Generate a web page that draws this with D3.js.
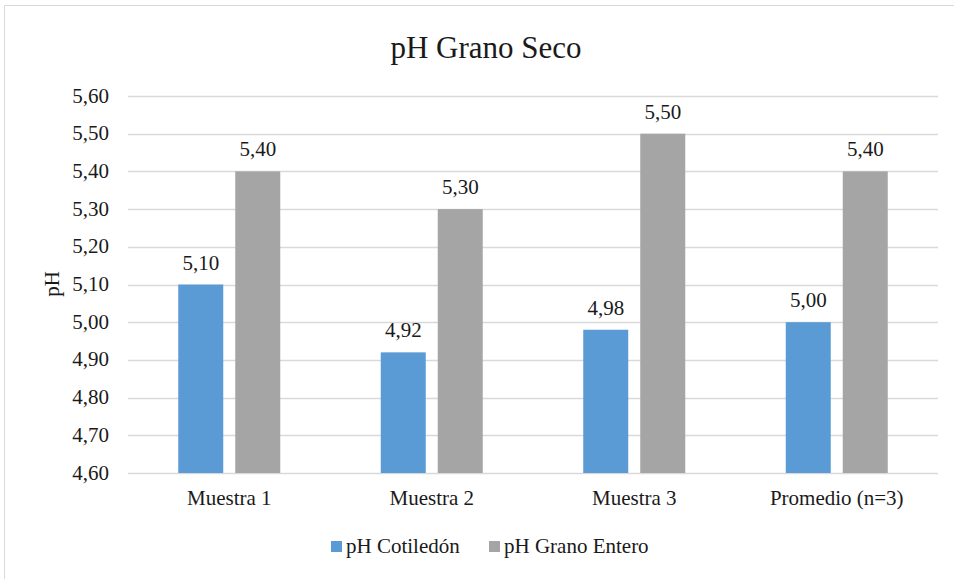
<!DOCTYPE html>
<html>
<head>
<meta charset="utf-8">
<script src="https://cdn.jsdelivr.net/npm/d3@7"></script>
<style>
  body { margin: 0; background: #fff; }
</style>
</head>
<body>
<script>
// Data
const categories = ["Muestra 1", "Muestra 2", "Muestra 3", "Promedio (n=3)"];
const seriesNames = ["pH Cotiledón", "pH Grano Entero"];
const cotiledon = [5.10, 4.92, 4.98, 5.00];
const granoEntero = [5.40, 5.30, 5.50, 5.40];
const yTicks = [4.6, 4.7, 4.8, 4.9, 5.0, 5.1, 5.2, 5.3, 5.4, 5.5, 5.6];
const colors = ["#5b9bd5", "#a5a5a5"];

const width = 954;
const height = 579;
const serif = "'Liberation Serif', 'Times New Roman', serif";

const margin = { top: 96, right: 16, bottom: 106, left: 128 };

const svg = d3.select("body")
  .append("svg")
  .attr("width", width)
  .attr("height", height);

// outer chart border (only top/left visible)
svg.append("rect")
  .attr("x", 4.5)
  .attr("y", 5.5)
  .attr("width", 1000)
  .attr("height", 1000)
  .attr("fill", "none")
  .attr("stroke", "#d9d9d9");

// helper for text
function label(g, x, y, txt, size, anchor, rot) {
  return g.append("text")
    .attr("transform", `translate(${x},${y})` + (rot ? ` rotate(${rot})` : ""))
    .attr("text-anchor", anchor || "middle")
    .attr("font-family", serif)
    .attr("font-size", size)
    .attr("fill", "#1a1a1a")
    .text(txt);
}

const x0 = d3.scaleBand()
  .domain(categories)
  .range([margin.left, width - margin.right]);

const y = d3.scaleLinear()
  .domain([4.6, 5.6])
  .range([height - margin.bottom, margin.top]);

const fmt = v => d3.format(".2f")(v).replace(".", ",");

// gridlines
svg.append("g")
  .selectAll("line")
  .data(yTicks)
  .join("line")
  .attr("x1", margin.left)
  .attr("x2", width - margin.right)
  .attr("y1", d => Math.round(y(d)) + 0.5)
  .attr("y2", d => Math.round(y(d)) + 0.5)
  .attr("stroke", "#d9d9d9")
  .attr("stroke-width", 1.5);

// y tick labels
const yLab = svg.append("g");
yTicks.forEach(t => label(yLab, 109, y(t) + 6.5, fmt(t), 21, "end"));

// bars
const barW = 45;
const gap = 12;
const series = [cotiledon, granoEntero];
const barX = (i, s) => x0(categories[i]) + x0.bandwidth() / 2 - (barW + gap / 2) + s * (barW + gap);

series.forEach((vals, s) => {
  svg.append("g")
    .selectAll("rect")
    .data(vals)
    .join("rect")
    .attr("x", (d, i) => barX(i, s))
    .attr("y", d => y(d))
    .attr("width", barW)
    .attr("height", d => y(4.6) - y(d))
    .attr("fill", colors[s]);

  const lg = svg.append("g");
  vals.forEach((d, i) => label(lg, barX(i, s) + barW / 2, y(d) - 15, fmt(d), 21));
});

// x labels
const xLab = svg.append("g");
categories.forEach(c => label(xLab, x0(c) + x0.bandwidth() / 2, 505, c, 21));

// axis title
label(svg, 59, 284, "pH", 21, "middle", -90);

// chart title
label(svg, 486, 58, "pH Grano Seco", 31);

// legend
const legend = svg.append("g");
const legX = [331, 489];
seriesNames.forEach((n, i) => {
  legend.append("rect")
    .attr("x", legX[i])
    .attr("y", 541)
    .attr("width", 11)
    .attr("height", 11)
    .attr("fill", colors[i]);
  label(legend, legX[i] + 15, 553, n, 21, "start");
});
</script>
</body>
</html>
